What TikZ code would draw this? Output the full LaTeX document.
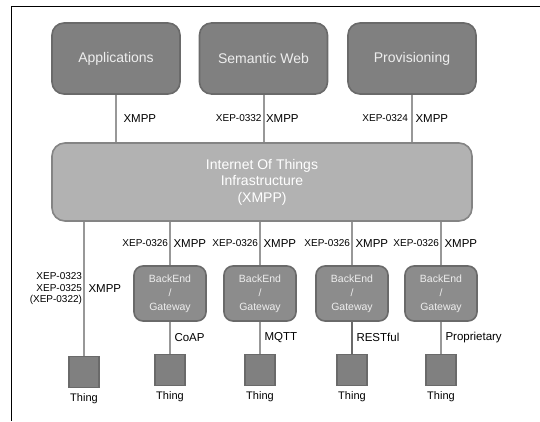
\documentclass[tikz,border=0pt]{standalone}
\usepackage{fontspec}
\setmainfont{Liberation Sans}
\usetikzlibrary{positioning, calc}
\definecolor{iotdark}{RGB}{128,128,128}
\definecolor{iotedge}{RGB}{106,106,106}
\definecolor{iotlight}{RGB}{178,178,178}
\definecolor{iotlightedge}{RGB}{132,132,132}
\definecolor{iotgate}{RGB}{140,140,140}
\definecolor{iotline}{RGB}{152,152,152}
\definecolor{iottext}{RGB}{238,238,238}

\begin{document}
\begin{tikzpicture}[x=1pt, y=-1pt,
    topbox/.style={rectangle, rounded corners=12pt, draw=iotedge, fill=iotdark, line width=1.6pt, minimum width=128pt, minimum height=71pt, text=iottext, font=\fontsize{14}{16}\selectfont},
    infrabox/.style={rectangle, rounded corners=13pt, draw=iotlightedge, fill=iotlight, line width=1.6pt, minimum width=420pt, minimum height=78pt, text=white, align=center, font=\fontsize{14}{16.5}\selectfont},
    gatebox/.style={rectangle, rounded corners=9pt, draw=iotedge, fill=iotgate, line width=1.6pt, minimum width=72pt, minimum height=55pt, text=iottext, align=center, font=\fontsize{10.5}{14}\selectfont},
    thingbox/.style={rectangle, draw=iotedge, fill=iotdark, line width=1.6pt, minimum width=30pt, minimum height=31pt},
    link/.style={draw=iotline, line width=2pt},
    proto/.style={font=\fontsize{11.5}{13}\selectfont, inner sep=1.5pt},
    xep/.style={font=\fontsize{10}{11.5}\selectfont, inner sep=1pt, align=right},
    thinglabel/.style={font=\fontsize{11}{12}\selectfont, inner sep=1pt}
  ]
  \useasboundingbox (0,0) rectangle (540,421);
  \draw[line width=0.9pt] (540,6) -- (11,6) -- (11,421);

  \node[topbox] (apps) at (116,58.5) {Applications};
  \node[topbox] (semweb) at (263.5,58.5) {Semantic Web};
  \node[topbox] (prov) at (412,58.5) {Provisioning};

  \node[infrabox] (iot) at (262,182) {Internet Of Things\\Infrastructure\\(XMPP)};

  \node[gatebox] (gw1) at (170,293.5) {BackEnd\\/\\Gateway};
  \node[gatebox] (gw2) at (260,293.5) {BackEnd\\/\\Gateway};
  \node[gatebox] (gw3) at (352,293.5) {BackEnd\\/\\Gateway};
  \node[gatebox] (gw4) at (441,293.5) {BackEnd\\/\\Gateway};

  \node[thingbox] (thing0) at (84,372) {};
  \node[thingbox, below=32pt of gw1] (thing1) {};
  \node[thingbox, below=32pt of gw2] (thing2) {};
  \node[thingbox, below=32pt of gw3] (thing3) {};
  \node[thingbox, below=32pt of gw4] (thing4) {};

  \node[thinglabel, below=4pt of thing0] (name0) {Thing};
  \node[thinglabel, below=4pt of thing1] (name1) {Thing};
  \node[thinglabel, below=4pt of thing2] (name2) {Thing};
  \node[thinglabel, below=4pt of thing3] (name3) {Thing};
  \node[thinglabel, below=4pt of thing4] (name4) {Thing};

  \draw[link] (apps.south) -- (apps.south |- iot.north)
    node[proto, midway, right, xshift=5pt] (x1) {XMPP};
  \draw[link] (semweb.south) -- (semweb.south |- iot.north)
    node[xep, midway, left] (e1) {XEP-0332}
    node[proto, midway, right] (x2) {XMPP};
  \draw[link] (prov.south) -- (prov.south |- iot.north)
    node[xep, midway, left, xshift=-2pt] (e2) {XEP-0324}
    node[proto, midway, right, xshift=1pt] (x3) {XMPP};

  \draw[link] (thing0.north |- iot.south) -- (thing0.north)
    node[xep, midway, left] (e3) {XEP-0323\\XEP-0325\\(XEP-0322)}
    node[proto, midway, right, xshift=2pt] (x4) {XMPP};
  \draw[link] (gw1.north |- iot.south) -- (gw1.north)
    node[xep, midway, left] (e4) {XEP-0326}
    node[proto, midway, right, xshift=1pt] (x5) {XMPP};
  \draw[link] (gw2.north |- iot.south) -- (gw2.north)
    node[xep, midway, left] (e5) {XEP-0326}
    node[proto, midway, right, xshift=1pt] (x6) {XMPP};
  \draw[link] (gw3.north |- iot.south) -- (gw3.north)
    node[xep, midway, left] (e6) {XEP-0326}
    node[proto, midway, right, xshift=1pt] (x7) {XMPP};
  \draw[link] (gw4.north |- iot.south) -- (gw4.north)
    node[xep, midway, left] (e7) {XEP-0326}
    node[proto, midway, right, xshift=1pt] (x8) {XMPP};

  \draw[link] (gw1) -- (thing1) node[proto, midway, right, xshift=2pt] (p1) {CoAP};
  \draw[link] (gw2) -- (thing2) node[proto, midway, right, xshift=2pt] (p2) {MQTT};
  \draw[link, draw=iotedge] (gw3) -- (thing3) node[proto, midway, right, xshift=2pt] (p3) {RESTful};
  \draw[link] (gw4) -- (thing4) node[proto, midway, right, xshift=2pt] (p4) {Proprietary};
\end{tikzpicture}
\end{document}
